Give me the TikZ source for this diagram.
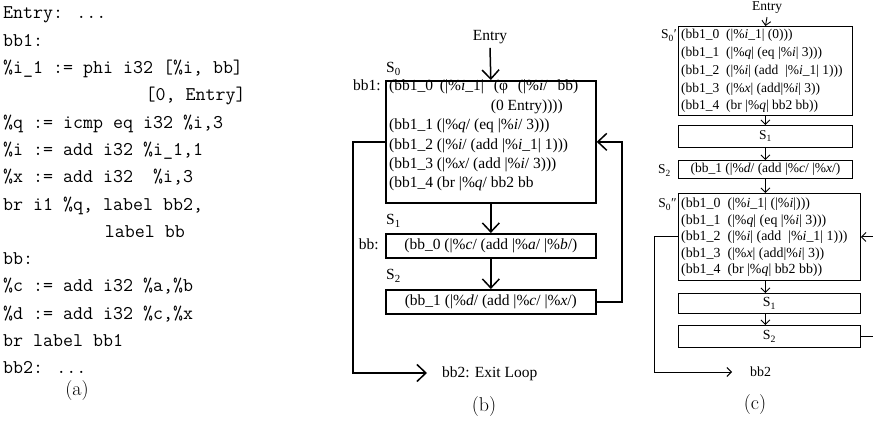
\documentclass[tikz,border=0pt]{standalone}
\usepackage{fontspec}
\newfontfamily\tms{Liberation Serif}
\usetikzlibrary{arrows.meta}
\begin{document}
\begin{tikzpicture}[x=1pt,y=-1pt,
  code/.style={anchor=base west, inner sep=0pt, font=\ttfamily\fontsize{19.4}{24}\selectfont},
  btxt/.style={anchor=base west, inner sep=0pt, font=\tms\fontsize{15.5}{19}\selectfont},
  ctxt/.style={anchor=base west, inner sep=0pt, font=\tms\fontsize{13.5}{17}\selectfont},
  cctxt/.style={anchor=base west, inner sep=0pt, font=\tms\fontsize{13.9}{17}\selectfont},
  bbox/.style={draw, line width=1.7pt, minimum width=210pt, inner sep=0pt, anchor=north west},
  cbox/.style={draw, line width=0.9pt, minimum width=174pt, inner sep=0pt, anchor=north west},
  ccbox/.style={draw, line width=0.9pt, minimum width=182pt, inner sep=0pt, anchor=north west},
  barr/.style={line width=1.5pt, -{Straight Barb[length=9pt,width=17pt]}},
  carr/.style={line width=0.9pt, -{Straight Barb[length=4.5pt,width=9pt]}},
  capt/.style={font=\fontsize{20}{24}\selectfont, inner sep=0pt}
]
\useasboundingbox (0,0) rectangle (873,427);
\begin{scope}
\clip (0,0) rectangle (873,427);
% ---------------- (a) code ----------------
\node[code] (a1)  at (3,19)    {Entry: ...};
\node[code] (a2)  at (3,46.3)  {bb1:};
\node[code] (a3)  at (3,73.6)  {\%i\_1 := phi i32 [\%i, bb]};
\node[code] (a4)  at (145.4,100.9) {[0, Entry]};
\node[code] (a5)  at (3,128.2) {\%q := icmp eq i32 \%i,3};
\node[code] (a6)  at (3,155.5) {\%i := add i32 \%i\_1,1};
\node[code] (a7)  at (3,182.8) {\%x := add i32 \ \%i,3};
\node[code] (a8)  at (3,210.1) {br i1 \%q, label bb2,};
\node[code] (a9)  at (104.7,237.4) {label bb};
\node[code] (a10) at (3,264.7) {bb:};
\node[code] (a11) at (3,292)   {\%c := add i32 \%a,\%b};
\node[code] (a12) at (3,319.3) {\%d := add i32 \%c,\%x};
\node[code] (a13) at (3,346.6) {br label bb1};
\node[code] (a14) at (3,373.9) {bb2: ...};
\node[capt] (capa) at (77,391) {(a)};
% ---------------- (b) ----------------
\node[btxt, anchor=center] (eb) at (490,37) {Entry};
\node[bbox, minimum height=122pt] (b0) at (385,80) {};
\node[bbox, minimum height=24pt] (b1) at (385,233) {};
\node[bbox, minimum height=24pt] (b2) at (385,289) {};
\node[btxt] (s0b) at (386,73) {S\textsubscript{0}};
\node[btxt] (s1b) at (386,225) {S\textsubscript{1}};
\node[btxt] (s2b) at (386,280) {S\textsubscript{2}};
\node[btxt, anchor=base east] (lbb1) at (381,91) {bb1:};
\node[btxt, anchor=base east] (lbb) at (379,250) {bb:};
\node[btxt] (b0l0) at (389,91)    {(bb1\_0\hspace{3pt} (|\%\textit{i}\_1|\hspace{6pt} (φ\hspace{6pt} (|\%\textit{i}/\hspace{6pt} bb)};
\node[btxt, anchor=base east] (b0l1) at (563,110.4) {(0 Entry))))};
\node[btxt] (b0l2) at (389,129.8) {(bb1\_1 (|\%\textit{q}/ (eq |\%\textit{i}/ 3)))};
\node[btxt] (b0l3) at (389,149.2) {(bb1\_2 (|\%\textit{i}/ (add |\%\textit{i}\_1| 1)))};
\node[btxt] (b0l4) at (389,168.6) {(bb1\_3 (|\%\textit{x}/ (add |\%\textit{i}/ 3)))};
\node[btxt] (b0l5) at (389,188)   {(bb1\_4 (br |\%\textit{q}/ bb2 bb};
\node[btxt, anchor=center] (b1t) at (b1.center) {(bb\_0 (|\%\textit{c}/ (add |\%\textit{a}/ |\%\textit{b}/)};
\node[btxt, anchor=center] (b2t) at (b2.center) {(bb\_1 (|\%\textit{d}/ (add |\%\textit{c}/ |\%\textit{x}/)};
\node[btxt] (exb) at (442,378) {bb2: Exit Loop};
\coordinate (bexit) at (353,373);
\coordinate (bloop) at (622,0);
\draw[barr] ([yshift=-4pt]eb.south) -- (b0.north);
\draw[barr] (b0.south) -- (b1.north);
\draw[barr] (b1.south) -- (b2.north);
\draw[barr] (b0.west) -| (bexit) -- ([xshift=-15pt]exb.west |- bexit);
\draw[barr] (b2.east) -- (bloop |- b2.east) -- (bloop |- b0.east) -- (b0.east);
\node[capt] (capb) at (484,407) {(b)};
% ---------------- (c) ----------------
\node[ctxt, anchor=center] (ec) at (767,8) {Entry};
\node[cbox, minimum height=89pt] (c0) at (678,26) {};
\node[cbox, minimum height=22pt] (c1) at (678,125) {};
\node[cbox, minimum height=18pt] (c2) at (678,160) {};
\node[ccbox, minimum height=87pt] (c3) at (678,193) {};
\node[ccbox, minimum height=20pt] (c4) at (678,293) {};
\node[ccbox, minimum height=22pt] (c5) at (678,325) {};
\node[ctxt, anchor=base east] (s0c) at (677,39) {S\textsubscript{0}′};
\node[ctxt, anchor=base east] (s2c) at (671,174) {S\textsubscript{2}};
\node[ctxt, anchor=base east] (s0cc) at (677,208) {S\textsubscript{0}″};
\node[ctxt] (c0l0) at (681,39)   {(bb1\_0\ \ (|\%\textit{i}\_1| (0)))};
\node[ctxt] (c0l1) at (681,56.75) {(bb1\_1\ \ (|\%\textit{q}| (eq |\%\textit{i}| 3)))};
\node[ctxt] (c0l2) at (681,74.5) {(bb1\_2\ \ (|\%\textit{i}| (add\ \ |\%\textit{i}\_1| 1)))};
\node[ctxt] (c0l3) at (681,92.25) {(bb1\_3\ \ (|\%\textit{x}| (add|\%\textit{i}| 3))};
\node[ctxt] (c0l4) at (681,110)  {(bb1\_4\ \ (br |\%\textit{q}| bb2 bb))};
\node[ctxt, anchor=center] (c1t) at (c1.center) {S\textsubscript{1}};
\node[ctxt, anchor=center] (c2t) at (c2.center) {(bb\_1 (|\%\textit{d}/ (add |\%\textit{c}/ |\%\textit{x}/)};
\node[cctxt] (c3l0) at (681,208)  {(bb1\_0\ \ (|\%\textit{i}\_1| (|\%\textit{i}|)))};
\node[cctxt] (c3l1) at (681,224.5) {(bb1\_1\ \ (|\%\textit{q}| (eq |\%\textit{i}| 3)))};
\node[cctxt] (c3l2) at (681,241)  {(bb1\_2\ \ (|\%\textit{i}| (add\ \ |\%\textit{i}\_1| 1)))};
\node[cctxt] (c3l3) at (681,257.5) {(bb1\_3\ \ (|\%\textit{x}| (add|\%\textit{i}| 3))};
\node[cctxt] (c3l4) at (681,274)  {(bb1\_4\ \ (br |\%\textit{q}| bb2 bb))};
\node[cctxt, anchor=center] (c4t) at (c4.center) {S\textsubscript{1}};
\node[cctxt, anchor=center] (c5t) at (c5.center) {S\textsubscript{2}};
\node[cctxt] (exc) at (750,377) {bb2};
\coordinate (cexit) at (654,372);
\coordinate (cloop) at (885,0);
\draw[carr] ([yshift=-3pt]ec.south) -- (c0.north);
\draw[carr] (c0.south) -- (c1.north);
\draw[carr] (c1.south) -- (c2.north);
\draw[carr] (c2.south) -- (c3.north -| c2.south);
\draw[carr] (c3.south -| c2.south) -- (c4.north -| c2.south);
\draw[carr] (c4.south -| c2.south) -- (c5.north -| c2.south);
\draw[carr] (c3.west) -| (cexit) -- ([xshift=-18pt]exc.west |- cexit);
\draw[carr] (c5.east) -- (cloop |- c5.east) -- (cloop |- c3.east) -- (c3.east);
\node[capt] (capc) at (755,405) {(c)};
\end{scope}
\end{tikzpicture}
\end{document}
